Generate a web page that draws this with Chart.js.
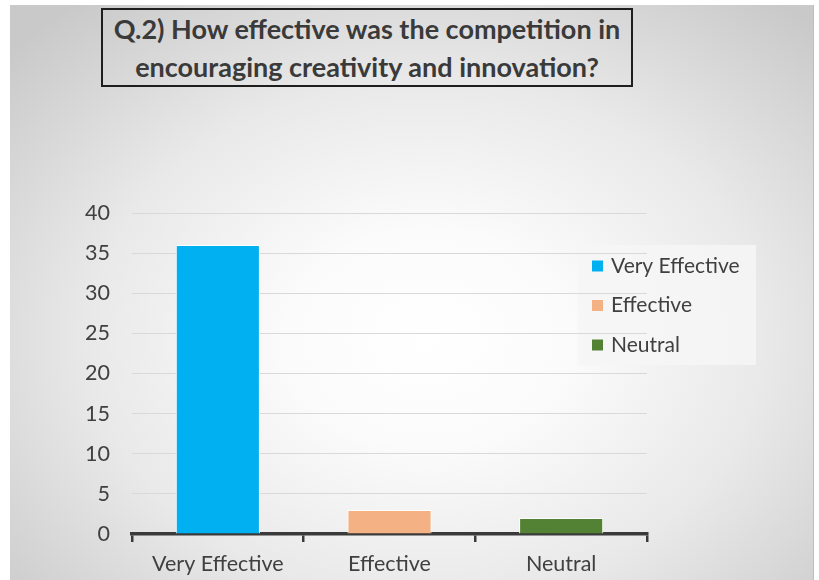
<!DOCTYPE html>
<html>
<head>
<meta charset="utf-8">
<script src="https://cdn.jsdelivr.net/npm/chart.js@4/dist/chart.umd.min.js"></script>
<style>
  html, body { margin: 0; padding: 0; background: #ffffff; }
  #wrap { position: relative; width: 819px; height: 580px; overflow: hidden; }
  #panel {
    position: absolute; left: 10px; top: 5px; width: 803px; height: 575px;
    background: radial-gradient(ellipse 70% 75% at 52% 58%, #ffffff 0%, #fbfbfb 25%, #e9e9e9 60%, #c9c9c9 100%);
    border-right: 1px solid #bdbdbd;
  }
  #title {
    position: absolute; left: 101px; top: 8px; width: 528px; height: 75px;
    border: 2px solid #1e1e1e;
    font-family: Lato, "Open Sans", sans-serif; font-weight: bold; font-size: 27px;
    line-height: 38px; color: #3a3a3a; text-align: center;
    display: flex; align-items: center; justify-content: center;
  }
  canvas { position: absolute; left: 0; top: 0; }
</style>
</head>
<body>
<div id="wrap">
  <div id="panel"></div>
  <div id="title">Q.2) How effective was the competition in<br>encouraging creativity and innovation?</div>
  <canvas id="c" width="819" height="580"></canvas>
</div>
<script>
// Survey responses
const categories = ['Very Effective', 'Effective', 'Neutral'];
const responses = [36, 3, 2];
const barColors = ['#00b0f0', '#f4b183', '#548235'];
const yTicks = [0, 5, 10, 15, 20, 25, 30, 35, 40];

const textColor = '#404040';
const font = { family: 'Lato, "Open Sans", sans-serif', size: 21.5 };

// Legend box drawn over the plot area (background under the grid, entries on top)
const legendBox = { x: 578, y: 245, w: 178, h: 120 };
const overlayLegend = {
  id: 'overlayLegend',
  beforeDraw(chart) {
    const ctx = chart.ctx;
    ctx.save();
    ctx.fillStyle = 'rgba(246,246,246,0.85)';
    ctx.fillRect(legendBox.x, legendBox.y, legendBox.w, legendBox.h);
    ctx.restore();
  },
  afterDraw(chart) {
    const ctx = chart.ctx;
    ctx.save();
    ctx.font = `21px ${font.family}`;
    ctx.textBaseline = 'middle';
    categories.forEach((label, i) => {
      const cy = legendBox.y + 21 + i * 39.5;
      ctx.fillStyle = barColors[i];
      ctx.fillRect(legendBox.x + 14, cy - 5.5, 11, 11);
      ctx.fillStyle = textColor;
      ctx.fillText(label, legendBox.x + 33, cy);
    });
    ctx.restore();
  }
};

new Chart(document.getElementById('c'), {
  type: 'bar',
  data: {
    labels: categories,
    datasets: [{
      data: responses,
      backgroundColor: barColors,
      borderColor: '#ffffff',
      borderWidth: 1,
      borderSkipped: 'bottom',
      categoryPercentage: 1,
      barPercentage: 0.49
    }]
  },
  options: {
    responsive: false,
    animation: false,
    events: [],
    layout: { padding: { left: 0, top: 213, right: 172, bottom: 0 } },
    plugins: { legend: { display: false }, title: { display: false }, tooltip: { enabled: false } },
    scales: {
      x: {
        offset: true,
        afterFit(scale) { scale.height = 46; },
        grid: { display: true, offset: true, drawOnChartArea: false, drawTicks: true, tickLength: 8, color: '#3a3a3a', lineWidth: 2.5 },
        border: { display: true, color: '#3a3a3a', width: 3.5 },
        ticks: { color: textColor, font: font, padding: 9, maxRotation: 0 }
      },
      y: {
        min: 0, max: 40,
        afterFit(scale) { scale.width = 132; },
        afterBuildTicks(scale) { scale.ticks = yTicks.map(v => ({ value: v })); },
        grid: { color: '#d9d9d9', lineWidth: 1, drawTicks: false },
        border: { display: false },
        ticks: { color: textColor, font: font, padding: 22 }
      }
    }
  },
  plugins: [overlayLegend]
});
</script>
</body>
</html>
